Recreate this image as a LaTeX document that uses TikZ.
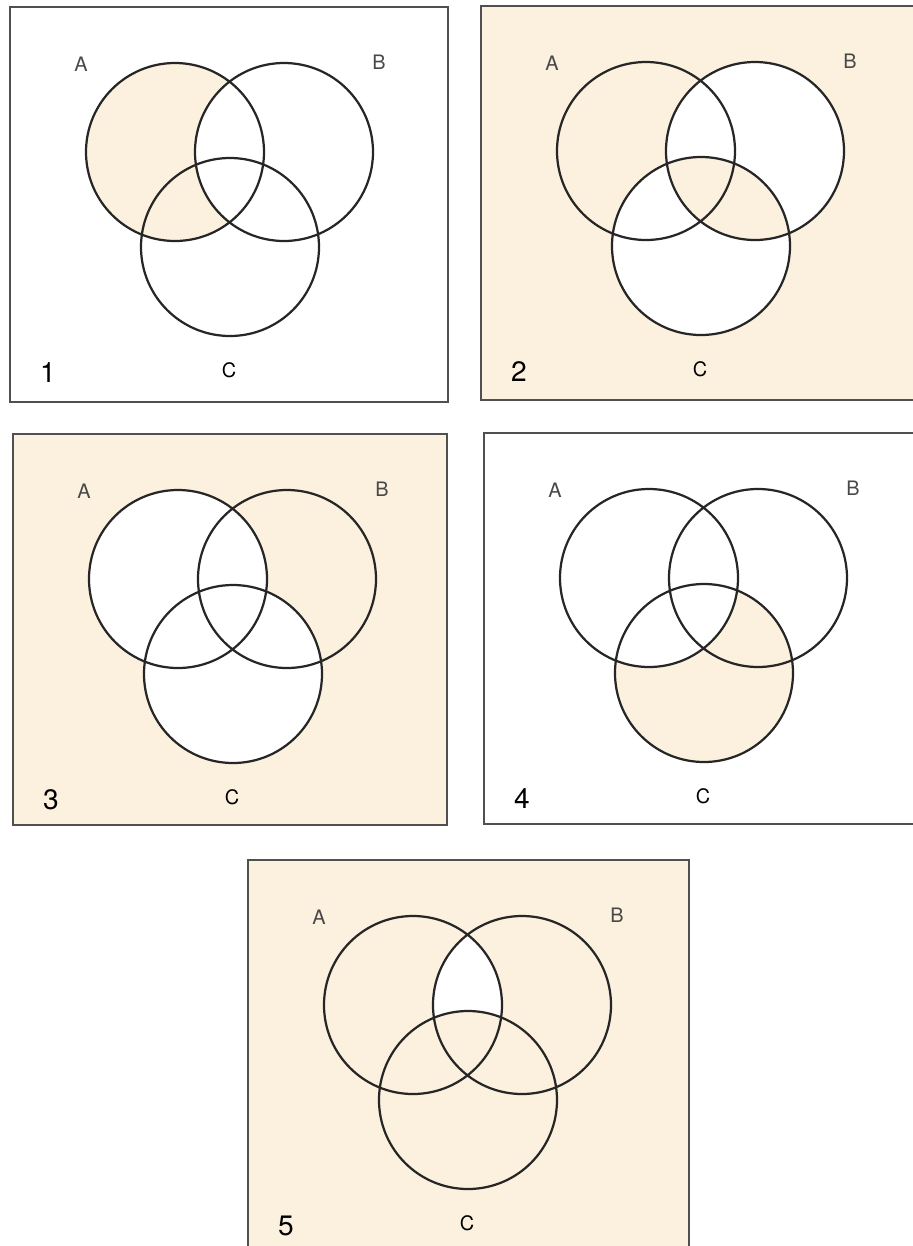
\documentclass[tikz,border=0pt]{standalone}
\usepackage{fontspec}
\setmainfont{TeX Gyre Heros}
\usepackage{tikz}
\definecolor{vennpeach}{HTML}{FCF0DE}
\definecolor{framegray}{HTML}{505050}
\definecolor{labelgray}{HTML}{484848}

\begin{document}
\begin{tikzpicture}[x=0.03cm, y=-0.03cm,
    shade/.style={fill=vennpeach},
    ring/.style={draw=black!85, line width=1.9pt},
    frame/.style={draw=framegray, line width=1.1pt},
    setlbl/.style={text=labelgray, font=\fontsize{17}{20}\selectfont},
    numlbl/.style={font=\fontsize{24}{28}\selectfont}]

    \useasboundingbox (0,0) rectangle (912,1246);

    % 1: A without B
    \begin{scope}[shift={(10,7)}]
        \fill[shade] (165,145) circle[radius=89];
        \fill[white] (274,145) circle[radius=89];
    \end{scope}

    % 2: B and C both or neither
    \begin{scope}[shift={(481,6)}]
        \fill[shade] (0,0) rectangle (433,394);
        \fill[white, even odd rule] (274,145) circle[radius=89] (220,240) circle[radius=89];
    \end{scope}

    % 3: neither A nor C
    \begin{scope}[shift={(13,434)}]
        \fill[shade] (0,0) rectangle (434,391);
        \fill[white] (165,145) circle[radius=89] (220,240) circle[radius=89];
    \end{scope}

    % 4: C without A
    \begin{scope}[shift={(484,433)}]
        \fill[shade] (220,240) circle[radius=89];
        \fill[white] (165,145) circle[radius=89];
    \end{scope}

    % 5: all but A and B without C
    \begin{scope}[shift={(248,860)}]
        \fill[shade] (0,0) rectangle (441,390);
        \begin{scope}
            \clip (165,145) circle[radius=89];
            \fill[white] (274,145) circle[radius=89];
        \end{scope}
        \fill[shade] (220,240) circle[radius=89];
    \end{scope}

    % circles, frames and labels
    \foreach \n/\px/\py/\w/\h in {1/10/7/438/395, 2/481/6/433/394, 3/13/434/434/391,
                                  4/484/433/430/391, 5/248/860/441/390} {
        \begin{scope}[shift={(\px,\py)}, name prefix=p\n-]
            \draw[ring] (165,145) circle[radius=89] (274,145) circle[radius=89]
                        (220,240) circle[radius=89];
            \draw[frame] (0,0) rectangle (\w,\h);
            \node[setlbl] (a) at (71,57) {A};
            \node[setlbl] (b) at (369,55) {B};
            \node[setlbl, text=black] (c) at (219,363) {C};
            \node[numlbl] (num) at (38,366) {\n};
        \end{scope}
    }

\end{tikzpicture}
\end{document}
